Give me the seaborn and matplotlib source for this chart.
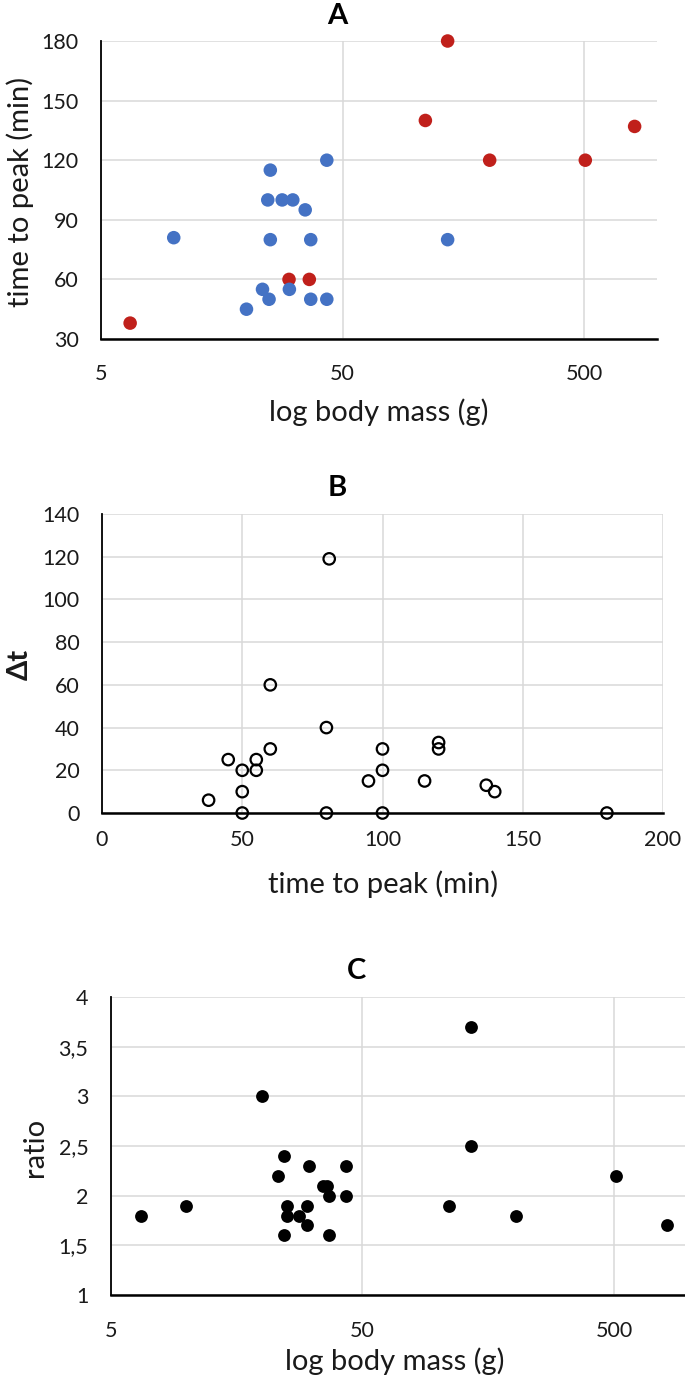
import numpy as np
import pandas as pd
import matplotlib
matplotlib.use("Agg")
import matplotlib.pyplot as plt
import matplotlib.ticker as mticker
import seaborn as sns

# Panel A: body mass (g) vs time to peak (min), two groups
red_mass = [6.6, 30, 36.4, 110, 136, 203, 505, 808]
red_time = [38, 60, 60, 140, 180, 120, 120, 137]
blue_mass = [10, 20, 23.3, 24.5, 24.8, 25.1, 25.1, 28.1, 30.1, 31.1, 35, 36.9, 36.9, 43, 43, 136]
blue_time = [81, 45, 55, 100, 50, 115, 80, 100, 55, 100, 95, 80, 50, 120, 50, 80]

# Panel B: time to peak vs delta t
b_time = [38, 45, 50, 50, 50, 55, 55, 60, 60, 80, 80, 81, 95, 100, 100, 100, 115, 120, 120, 137, 140, 180]
b_dt = [6, 25, 20, 10, 0, 25, 20, 60, 30, 40, 0, 119, 15, 30, 20, 0, 15, 33, 30, 13, 10, 0]

# Panel C: body mass vs ratio
c_mass = [6.6, 10, 20, 23.1, 24.5, 24.3, 25, 25, 28, 30, 30, 30.8, 34.7, 36.2, 36.8, 36.8,
          43, 43, 110, 135, 135, 203, 510, 808]
c_ratio = [1.8, 1.9, 3.0, 2.2, 2.4, 1.6, 1.9, 1.8, 1.8, 1.9, 1.7, 2.3, 2.1, 2.1, 2.0, 1.6,
           2.3, 2.0, 1.9, 3.7, 2.5, 1.8, 2.2, 1.7]

df_a = pd.DataFrame({
    "mass": red_mass + blue_mass,
    "time": red_time + blue_time,
    "group": ["red"] * len(red_mass) + ["blue"] * len(blue_mass),
})
df_b = pd.DataFrame({"time": b_time, "dt": b_dt})
df_c = pd.DataFrame({"mass": c_mass, "ratio": c_ratio})

sns.set_style("white")
plt.rcParams["font.family"] = ["Lato", "DejaVu Sans"]

W, H = 685, 1389
fig = plt.figure(figsize=(W / 100, H / 100), dpi=100)


def box(left, right, top, bottom):
    return [left / W, 1 - bottom / H, (right - left) / W, (bottom - top) / H]


txt = "#1a1a1a"
grid_c = "#d9d9d9"
tick_fs = 15.5
lab_fs = 21


def style(ax, xpad):
    ax.set_axisbelow(True)
    ax.grid(True, color=grid_c, lw=1.1)
    for s in ["top", "right"]:
        ax.spines[s].set_visible(False)
    ax.spines["left"].set_color("black")
    ax.spines["bottom"].set_color("black")
    ax.spines["left"].set_linewidth(1.3)
    ax.spines["bottom"].set_linewidth(1.8)
    ax.tick_params(axis="both", length=0, labelsize=tick_fs, colors=txt)
    ax.tick_params(axis="x", pad=xpad)
    ax.tick_params(axis="y", pad=16)


def place_labels(ax, left, right, top, bottom, xl, yl):
    # xl, yl: label centres in figure pixels
    w, h = right - left, bottom - top
    ax.xaxis.label.set_verticalalignment("center")
    ax.yaxis.label.set_verticalalignment("center")
    ax.xaxis.set_label_coords((xl[0] - left) / w, (bottom - xl[1]) / h)
    ax.yaxis.set_label_coords((yl[0] - left) / w, (bottom - yl[1]) / h)


def log_axis(ax, hi):
    ax.set_xscale("log")
    ax.set_xlim(5, hi)
    ax.xaxis.set_major_locator(mticker.FixedLocator([5, 50, 500]))
    ax.xaxis.set_major_formatter(mticker.FixedFormatter(["5", "50", "500"]))
    ax.xaxis.set_minor_locator(mticker.NullLocator())


# ---- A ----
axA = fig.add_axes(box(101, 657, 41, 339))
sns.scatterplot(data=df_a, x="mass", y="time", hue="group",
                palette={"red": "#c0201b", "blue": "#4472c4"},
                s=95, linewidth=0, legend=False, clip_on=False, ax=axA)
log_axis(axA, 1000)
axA.set_ylim(30, 180)
axA.set_yticks(range(30, 181, 30))
style(axA, 18)
axA.set_xlabel("log body mass (g)", fontsize=lab_fs, color=txt)
axA.set_ylabel("time to peak (min)", fontsize=lab_fs, color=txt)
place_labels(axA, 101, 657, 41, 339, (379, 412), (20, 192))
fig.text(337 / W, 1 - 16 / H, "A", ha="center", va="center",
         fontsize=21, fontweight="bold", color="black")

# ---- B ----
axB = fig.add_axes(box(102, 663, 514, 813))
sns.scatterplot(data=df_b, x="time", y="dt", s=68, facecolor="none",
                edgecolor="black", linewidth=1.6, clip_on=False, ax=axB)
axB.set_xlim(0, 200)
axB.set_ylim(0, 140)
axB.set_xticks(range(0, 201, 50))
axB.set_yticks(range(0, 141, 20))
style(axB, 12)
axB.set_xlabel("time to peak (min)", fontsize=lab_fs, color=txt)
axB.set_ylabel("Δt", fontsize=lab_fs, fontweight="bold", color=txt)
place_labels(axB, 102, 663, 514, 813, (383, 884), (20, 664))
fig.text(337 / W, 1 - 488 / H, "B", ha="center", va="center",
         fontsize=21, fontweight="bold", color="black")

# ---- C ----
axC = fig.add_axes(box(110.7, 685, 997, 1295))
sns.scatterplot(data=df_c, x="mass", y="ratio", color="black", s=85,
                linewidth=0, clip_on=False, ax=axC)
log_axis(axC, 955)
axC.set_ylim(1, 4)
yt = [1, 1.5, 2, 2.5, 3, 3.5, 4]
axC.yaxis.set_major_locator(mticker.FixedLocator(yt))
axC.yaxis.set_major_formatter(mticker.FixedFormatter(
    [("%g" % v).replace(".", ",") for v in yt]))
style(axC, 19)
axC.set_xlabel("log body mass (g)", fontsize=lab_fs, color=txt)
axC.set_ylabel("ratio", fontsize=lab_fs, color=txt)
place_labels(axC, 110.7, 685, 997, 1295, (395, 1361), (35, 1147))
fig.text(356 / W, 1 - 971 / H, "C", ha="center", va="center",
         fontsize=21, fontweight="bold", color="black")

fig.savefig("out.png", dpi=100)
